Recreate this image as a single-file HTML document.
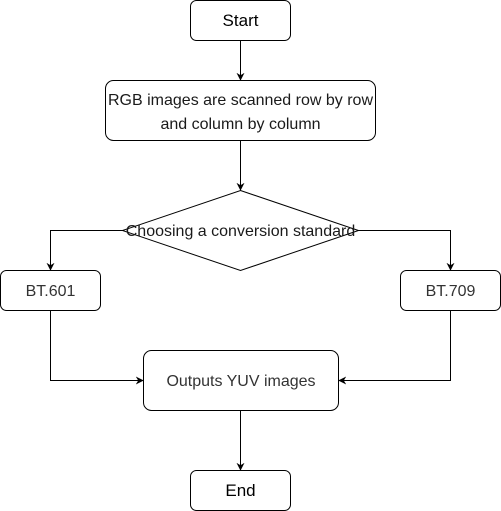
<!DOCTYPE html>
<html><head><meta charset="utf-8"><style>
body{margin:0;background:#fff;}
svg{display:block;font-family:"Liberation Sans",Arial,sans-serif;}
</style></head><body>
<svg width="501" height="511" viewBox="0 0 501 511">
<defs><marker id="a" viewBox="0 0 10 10" refX="9" refY="5" markerWidth="8" markerHeight="8" orient="auto" markerUnits="userSpaceOnUse"><path d="M0,0 L10,5 L0,10 L3,5 z" fill="#000"/></marker></defs>
<g fill="#fff" stroke="#000" stroke-width="1">
<rect x="190.5" y="0.5" width="100" height="40" rx="6"/>
<rect x="105.5" y="80.5" width="270" height="60" rx="8"/>
<polygon points="240.5,190.5 358.5,230.5 240.5,270.5 122.5,230.5"/>
<rect x="0.5" y="270.5" width="100" height="40" rx="6"/>
<rect x="400.5" y="270.5" width="100" height="40" rx="6"/>
<rect x="143.5" y="350.5" width="195" height="60" rx="8"/>
<rect x="190.5" y="470.5" width="100" height="40" rx="6"/>
</g>
<g fill="none" stroke="#000" stroke-width="1" marker-end="url(#a)">
<path d="M240.5,40.5 V80"/>
<path d="M240.5,140.5 V190"/>
<path d="M122.5,230.5 H50.5 V270"/>
<path d="M358.5,230.5 H450.5 V270"/>
<path d="M50.5,310.5 V380.5 H143"/>
<path d="M450.5,310.5 V380.5 H339"/>
<path d="M240.5,410.5 V470"/>
</g>
<g text-anchor="middle" font-size="17" fill="#000">
<text x="240.5" y="26">Start</text>
<text x="240.5" y="496">End</text>
</g>
<g text-anchor="middle" font-size="16" fill="#1a1a1a">
<text x="240.5" y="105">RGB images are scanned row by row</text>
<text x="240.5" y="129">and column by column</text>
<text x="240.5" y="236">Choosing a conversion standard</text>
</g>
<g text-anchor="middle" font-size="16" fill="#333">
<text x="50.5" y="296">BT.601</text>
<text x="450.5" y="296">BT.709</text>
<text x="241" y="386">Outputs YUV images</text>
</g>
</svg>
</body></html>
